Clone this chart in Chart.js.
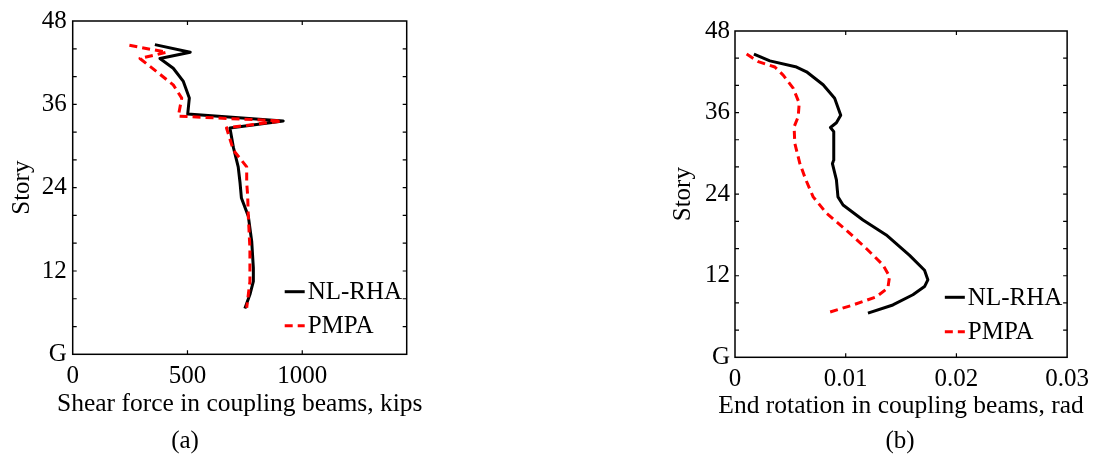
<!DOCTYPE html>
<html><head><meta charset="utf-8">
<script src="https://cdn.jsdelivr.net/npm/chart.js@4.4.0/dist/chart.umd.min.js"></script>
<style>
html,body{margin:0;padding:0;background:#fff;}
body{width:1096px;height:471px;position:relative;overflow:hidden;font-family:'Liberation Serif',serif;}
canvas{position:absolute;top:0;}
.cap{position:absolute;top:426px;width:100px;text-align:center;font-size:25px;line-height:28px;color:#000;}
</style>
</head><body>
<canvas id="ca" width="548" height="430" style="left:0"></canvas>
<canvas id="cb" width="548" height="430" style="left:548px"></canvas>
<div class="cap" style="left:135px">(a)</div>
<div class="cap" style="left:850px">(b)</div>
<script>
// ---- data ----
const storyTickValues = [0, 12, 24, 36, 48];
const storyTickText = ['G', '12', '24', '36', '48'];
const storyMinorTicks = [0, 4, 8, 12, 16, 20, 24, 28, 32, 36, 40, 44, 48];
const shearTicks = [0, 500, 1000];
const shearTickText = ['0', '500', '1000'];
const rotTicks = [0, 0.01, 0.02, 0.03];
const rotTickText = ['0', '0.01', '0.02', '0.03'];

// (a) shear force, NL-RHA
const shearNLStory = [44.6, 43.5, 42.6, 41.2, 39.3, 36.9, 34.6, 33.6, 32.6, 29.8, 27.0, 24.7, 22.5, 19.9, 16.2, 12.4, 10.5, 8.6, 6.6];
const shearNL = [358, 512, 380, 438, 482, 508, 501, 917, 685, 700, 721, 729, 735, 765, 780, 787, 787, 772, 750];
// (a) shear force, PMPA
const shearPMStory = [44.5, 43.5, 42.6, 40.7, 38.8, 36.9, 34.3, 33.6, 32.6, 29.4, 27.0, 24.7, 23.0, 19.9, 15.2, 10.5, 6.7];
const shearPM = [247, 409, 293, 366, 438, 475, 460, 910, 670, 700, 758, 758, 762, 765, 772, 772, 758];
// (b) end rotation, NL-RHA
const rotNLStory = [44.6, 43.6, 42.7, 42.0, 40.1, 38.1, 35.6, 34.5, 33.8, 33.2, 29.0, 28.5, 26.1, 23.6, 22.4, 20.2, 18.0, 15.0, 12.8, 11.4, 10.4, 9.2, 7.7, 6.5];
const rotNL = [0.00171, 0.00315, 0.00556, 0.00646, 0.00796, 0.0090, 0.00955, 0.00916, 0.00862, 0.00892, 0.00892, 0.0088, 0.00916, 0.0093, 0.00976, 0.01156, 0.01366, 0.01577, 0.01712, 0.01742, 0.01712, 0.01607, 0.01426, 0.01201];
// (b) end rotation, PMPA
const rotPMStory = [44.6, 43.5, 42.7, 41.5, 39.6, 37.4, 35.4, 33.9, 31.5, 28.5, 26.1, 23.6, 21.2, 18.7, 16.0, 13.6, 11.9, 10.2, 8.9, 7.7, 6.5];
const rotPM = [0.00105, 0.0021, 0.0036, 0.00435, 0.00525, 0.0058, 0.00571, 0.00534, 0.0054, 0.00586, 0.0064, 0.00706, 0.00826, 0.01006, 0.01186, 0.01336, 0.01396, 0.01381, 0.01276, 0.01066, 0.00826];

// ---- chart ----
Chart.defaults.font.family = "'Liberation Serif', 'Times New Roman', serif";
Chart.defaults.font.size = 25;
Chart.defaults.color = '#000';

const pts = (xs, ys) => xs.map((v, i) => ({x: v, y: ys[i]}));

const frameTicks = {
  id: 'frameTicks',
  afterDatasetsDraw(chart) {
    const {ctx, chartArea: a, scales: {x, y}} = chart;
    ctx.save();
    ctx.strokeStyle = '#000';
    ctx.lineWidth = 1.5;
    ctx.setLineDash([]);
    ctx.strokeRect(a.left, a.top, a.right - a.left, a.bottom - a.top);
    ctx.lineWidth = 1.2;
    const L = 4;
    ctx.beginPath();
    x.ticks.forEach(t => {
      const p = x.getPixelForValue(t.value);
      if (p <= a.left + 1 || p >= a.right - 1) return;
      ctx.moveTo(p, a.bottom); ctx.lineTo(p, a.bottom - L);
      ctx.moveTo(p, a.top); ctx.lineTo(p, a.top + L);
    });
    y.ticks.forEach(t => {
      const p = y.getPixelForValue(t.value);
      if (p <= a.top + 1 || p >= a.bottom - 1) return;
      ctx.moveTo(a.left, p); ctx.lineTo(a.left + L, p);
      ctx.moveTo(a.right, p); ctx.lineTo(a.right - L, p);
    });
    ctx.stroke();
    ctx.restore();
  }
};

const inLegend = {
  id: 'inLegend',
  afterDraw(chart, args, opts) {
    const a = chart.chartArea, ctx = chart.ctx;
    chart.data.datasets.forEach((ds, i) => {
      const y = a.bottom - opts.fromBottom + i * opts.gap;
      const x0 = a.right - opts.fromRight;
      ctx.save();
      ctx.strokeStyle = ds.borderColor;
      ctx.lineWidth = ds.borderWidth;
      ctx.setLineDash(ds.borderDash || []);
      ctx.beginPath(); ctx.moveTo(x0, y); ctx.lineTo(x0 + 20, y); ctx.stroke();
      ctx.setLineDash([]);
      ctx.fillStyle = '#000';
      ctx.font = "25px 'Liberation Serif'";
      ctx.textBaseline = 'middle';
      ctx.textAlign = 'left';
      ctx.fillText(ds.label, x0 + 23, y + 1);
      ctx.restore();
    });
    // x-axis title, drawn without width compression
    ctx.save();
    ctx.fillStyle = '#000';
    ctx.font = "25.5px 'Liberation Serif'";
    ctx.textAlign = 'center';
    ctx.textBaseline = 'alphabetic';
    ctx.fillText(opts.xTitle, (a.left + a.right) / 2, opts.xTitleBaseline);
    ctx.restore();
  }
};

function makeChart(id, nl, pm, xcfg, geo) {
  geo.legend.xTitle = xcfg.title;
  return new Chart(document.getElementById(id), {
    type: 'scatter',
    data: {
      datasets: [
        {label: 'NL-RHA', data: nl, showLine: true, borderColor: '#000', backgroundColor: '#000',
         borderWidth: 3, borderJoinStyle: 'round', borderCapStyle: 'butt', pointRadius: 0, tension: 0, order: 2},
        {label: 'PMPA', data: pm, showLine: true, borderColor: '#ff0000', backgroundColor: '#ff0000',
         borderWidth: 3, borderJoinStyle: 'round', borderDash: [8, 5], pointRadius: 0, tension: 0, order: 1}
      ]
    },
    options: {
      responsive: false,
      animation: false,
      layout: {padding: geo.padding},
      plugins: {legend: {display: false}, tooltip: {enabled: false}, inLegend: geo.legend},
      scales: {
        x: {
          type: 'linear', min: xcfg.min, max: xcfg.max,
          afterBuildTicks: s => { s.ticks = xcfg.ticks.map(v => ({value: v})); },
          ticks: {autoSkip: false, maxRotation: 0, padding: geo.xTickPad,
                  callback: (v) => { const i = xcfg.ticks.indexOf(v); return i >= 0 ? xcfg.text[i] : ''; }},
          grid: {display: false, drawTicks: false},
          border: {display: false},
          title: {display: false, text: xcfg.title},
          afterFit: s => { s.height = geo.xHeight; }
        },
        y: {
          type: 'linear', min: 0, max: 48,
          afterBuildTicks: s => { s.ticks = storyMinorTicks.map(v => ({value: v})); },
          ticks: {autoSkip: false, padding: geo.yTickPad,
                  callback: (v) => { const i = storyTickValues.indexOf(v); return i >= 0 ? storyTickText[i] : ''; }},
          grid: {display: false, drawTicks: false},
          border: {display: false},
          title: {display: true, text: 'Story', padding: {top: geo.yTitlePad, bottom: 0}},
          afterFit: s => { s.width = geo.yWidth; }
        }
      }
    },
    plugins: [frameTicks, inLegend]
  });
}

makeChart('ca', pts(shearNL, shearNLStory), pts(shearPM, shearPMStory),
  {min: 0, max: 1455, ticks: shearTicks, text: shearTickText, title: 'Shear force in coupling beams, kips'},
  {padding: {left: 0, top: 15, right: 141.3, bottom: 0}, xHeight: 75.7, yWidth: 72.7,
   xTickPad: 7, yTickPad: 6, yTitlePad: 7,
   legend: {fromRight: 122, fromBottom: 62.6, gap: 34, xTitleBaseline: 411}});

makeChart('cb', pts(rotNL, rotNLStory), pts(rotPM, rotPMStory),
  {min: 0, max: 0.03, ticks: rotTicks, text: rotTickText, title: 'End rotation in coupling beams, rad'},
  {padding: {left: 120, top: 31, right: 27, bottom: 0}, xHeight: 72.7, yWidth: 67,
   xTickPad: 7, yTickPad: 5, yTitlePad: 0,
   legend: {fromRight: 122.3, fromBottom: 60, gap: 34.4, xTitleBaseline: 413}});
</script>
</body></html>
